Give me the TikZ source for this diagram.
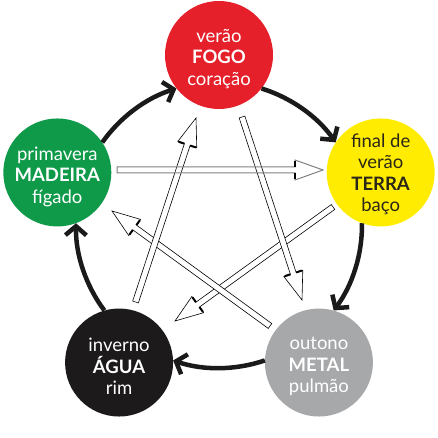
\documentclass[tikz,border=0pt]{standalone}
\usepackage{fontspec}
\setmainfont{Lato}
\usetikzlibrary{arrows.meta,calc}
\definecolor{fogoc}{HTML}{E5202A}
\definecolor{terrac}{HTML}{FFEC00}
\definecolor{madeirac}{HTML}{0F9A4A}
\definecolor{aguac}{HTML}{1C1A1B}
\definecolor{metalc}{HTML}{A7A8AA}
\definecolor{ringc}{HTML}{1A1A1A}
\definecolor{textdark}{HTML}{2A2618}
\tikzset{
  elem/.style={circle, minimum size=108pt, inner sep=0pt},
  elemtext/.style={align=center, inner sep=0pt,
    font=\fontsize{18.5}{21.5}\selectfont, text=white},
  ring/.style={line width=4.5pt, draw=ringc, line cap=butt,
    -{Straight Barb[length=9pt,width=21pt]}},
  hollow/.style={fill=white, draw=black, line width=0.6pt, line join=miter},
  hollowgray/.style={draw=black!50, line width=1pt, line join=miter},
  barbmark/.style={draw=black, line width=2pt, line cap=butt}
}
\newcommand\hollowarr[3]{%
  \coordinate (hb) at ($(#3)!28pt!(#2)$);
  \path[#1] ($(#2)!3pt!90:(#3)$) -- ($(hb)!3pt!90:(#3)$) -- ($(hb)!10pt!90:(#3)$)
    -- (#3) -- ($(hb)!10pt!-90:(#3)$) -- ($(hb)!3pt!-90:(#3)$)
    -- ($(#2)!3pt!-90:(#3)$) -- cycle;
  \draw[barbmark] ($(hb)!3pt!90:(#3)$) -- ($(hb)!9pt!90:(#3)$);
  \draw[barbmark] ($(hb)!3pt!-90:(#3)$) -- ($(hb)!9pt!-90:(#3)$);
}
\begin{document}
\begin{tikzpicture}[x=1pt,y=1pt]
\useasboundingbox (0,0) rectangle (438,438);
\coordinate (C) at (219,213);
% element circles
\node[elem, fill=fogoc] (fogo) at ($(C)+(90:170)$) {};
\node[elem, fill=terrac] (terra) at ($(C)+(18:170)$) {};
\node[elem, fill=metalc] (metal) at ($(C)+(-54:170)$) {};
\node[elem, fill=aguac] (agua) at ($(C)+(-126:170)$) {};
\node[elem, fill=madeirac] (madeira) at ($(C)+(162:170)$) {};
\node[elemtext] (fogot) at ($(fogo)+(0,-4)$) {verão\\\textbf{FOGO}\\coração};
\node[elemtext, text=textdark] (terrat) at ($(terra)+(0,-2)$) {final de\\verão\\\textbf{TERRA}\\baço};
\node[elemtext] (metalt) at ($(metal)+(0,-4)$) {outono\\\textbf{METAL}\\pulmão};
\node[elemtext] (aguat) at ($(agua)+(0,-4)$) {inverno\\\textbf{ÁGUA}\\rim};
\node[elemtext] (madeirat) at ($(madeira)+(0,-4)$) {primavera\\\textbf{MADEIRA}\\fígado};
% outer cycle
\draw[ring] ($(C)+(72.7:143)$) arc[start angle=72.7, end angle=35.3, radius=143];
\draw[ring] ($(C)+(0.7:143)$) arc[start angle=0.7, end angle=-36.7, radius=143];
\draw[ring] ($(C)+(-71.3:143)$) arc[start angle=-71.3, end angle=-108.7, radius=143];
\draw[ring] ($(C)+(-143.3:143)$) arc[start angle=-143.3, end angle=-180.7, radius=143];
\draw[ring] ($(C)+(144.7:143)$) arc[start angle=144.7, end angle=107.3, radius=143];
% star arrows
\coordinate (t1) at (117,268); \coordinate (h1) at (323,268);
\coordinate (t2) at (333,231); \coordinate (h2) at (175,117);
\coordinate (t3) at (135.5,136); \coordinate (h3) at (196,320);
\coordinate (t4) at (242,321); \coordinate (h4) at (302,138);
\coordinate (t5) at (270,112); \coordinate (h5) at (112,227);
\hollowarr{hollow}{t2}{h2}
\hollowarr{hollow}{t5}{h5}
\hollowarr{hollow}{t4}{h4}
\hollowarr{hollow}{t3}{h3}
\hollowarr{hollowgray}{t1}{h1}
\end{tikzpicture}
\end{document}
